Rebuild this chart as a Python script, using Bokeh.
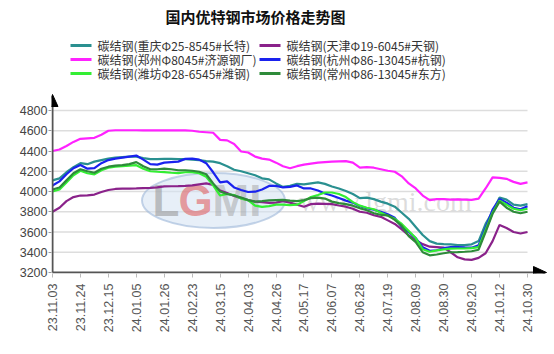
import math
from bokeh.plotting import figure
from bokeh.models import Range1d, FixedTicker, Label
from bokeh.embed import file_html
from bokeh.resources import INLINE
from bokeh.core.properties import value

# ---------------- data ----------------
dates = ["23.11.03", "23.11.24", "23.12.15", "24.01.05", "24.01.26", "24.02.23",
         "24.03.15", "24.04.03", "24.04.26", "24.05.17", "24.06.07", "24.06.28",
         "24.07.19", "24.08.09", "24.08.30", "24.09.20", "24.10.12", "24.10.30"]
y_ticks = [3200, 3400, 3600, 3800, 4000, 4200, 4400, 4600, 4800]

names = ["碳结钢(重庆Φ25-8545#长特)", "碳结钢(天津Φ19-6045#天钢)",
         "碳结钢(郑州Φ8045#济源钢厂)", "碳结钢(杭州Φ86-13045#杭钢)",
         "碳结钢(潍坊Φ28-6545#潍钢)", "碳结钢(常州Φ86-13045#东方)"]

chongqing = [4110, 4130, 4190, 4240, 4280, 4270, 4295, 4310, 4325, 4335,
             4340, 4345, 4345, 4330, 4320, 4320, 4322, 4322, 4320, 4320,
             4315, 4310, 4300, 4295, 4280, 4250, 4215, 4200, 4180, 4160,
             4130, 4120, 4080, 4045, 4055, 4075, 4070, 4080, 4090, 4075,
             4050, 4030, 4005, 3975, 3935, 3940, 3925, 3900, 3880, 3850,
             3790, 3730, 3650, 3570, 3510, 3485, 3480, 3478, 3470, 3470,
             3478, 3510, 3680, 3800, 3940, 3920, 3870, 3860, 3875]

tianjin = [3800, 3840, 3905, 3945, 3960, 3962, 3970, 3995, 4015, 4025,
           4028, 4028, 4030, 4033, 4036, 4040, 4050, 4052, 4053, 4055,
           4060, 4070, 4080, 4065, 4010, 3985, 3955, 3935, 3915, 3900,
           3895, 3888, 3890, 3905, 3890, 3870, 3850, 3875, 3880, 3878,
           3875, 3862, 3850, 3830, 3800, 3790, 3765, 3750, 3715, 3680,
           3625, 3565, 3520, 3480, 3455, 3450, 3445, 3400, 3350, 3330,
           3325, 3345, 3390, 3510, 3670, 3640, 3600, 3585, 3600]

zhengzhou = [4400, 4415, 4450, 4490, 4520, 4525, 4530, 4560, 4600, 4605,
             4605, 4605, 4605, 4603, 4603, 4603, 4603, 4603, 4603, 4603,
             4600, 4590, 4585, 4580, 4510, 4505, 4470, 4395, 4385, 4345,
             4325, 4315, 4285, 4250, 4230, 4250, 4265, 4275, 4285, 4290,
             4295, 4298, 4300, 4285, 4235, 4240, 4235, 4220, 4205, 4195,
             4150, 4080, 4030, 3960, 3915, 3925, 3925, 3920, 3922, 3920,
             3918, 3930, 4030, 4140, 4135, 4125, 4095, 4075, 4090]

hangzhou = [4060, 4100, 4170, 4230, 4262, 4225, 4230, 4280, 4310, 4325,
            4335, 4345, 4355, 4315, 4270, 4265, 4285, 4290, 4295, 4322,
            4325, 4315, 4280, 4190, 4090, 4100, 4040, 4015, 3995, 3998,
            4020, 4055, 4055, 4040, 4045, 4060, 4030, 4030, 4010, 3980,
            3960, 3935, 3910, 3890, 3855, 3835, 3820, 3800, 3775, 3740,
            3650, 3600, 3540, 3450, 3415, 3420, 3440, 3450, 3452, 3448,
            3445, 3470, 3640, 3820, 3925, 3890, 3840, 3825, 3855]

weifang = [4000, 4020, 4090, 4160, 4205, 4180, 4170, 4210, 4235, 4245,
           4250, 4255, 4260, 4225, 4200, 4195, 4192, 4185, 4182, 4190,
           4192, 4180, 4145, 4060, 3960, 3975, 3965, 3930, 3915, 3860,
           3848, 3855, 3870, 3870, 3865, 3870, 3905, 3945, 3965, 3990,
           3990, 3975, 3945, 3895, 3860, 3840, 3825, 3790, 3760, 3730,
           3680, 3610, 3540, 3430, 3405, 3418, 3428, 3435, 3437, 3437,
           3440, 3450, 3620, 3790, 3910, 3870, 3830, 3815, 3830]

changzhou = [4020, 4040, 4110, 4180, 4220, 4200, 4185, 4225, 4245, 4255,
             4260, 4270, 4290, 4250, 4220, 4220, 4225, 4220, 4210, 4210,
             4205, 4195, 4170, 4080, 4000, 3975, 3960, 3940, 3915, 3900,
             3905, 3912, 3915, 3918, 3910, 3905, 3915, 3935, 3940, 3930,
             3900, 3885, 3875, 3860, 3835, 3815, 3785, 3770, 3765, 3720,
             3660, 3560, 3500, 3400, 3370, 3378, 3390, 3400, 3402, 3405,
             3410, 3425, 3600, 3780, 3900, 3840, 3800, 3785, 3800]

series = [chongqing, tianjin, zhengzhou, hangzhou, weifang, changzhou]
colors = ["#2a9090", "#8a228a", "#ff22ff", "#1a22ee", "#33ee33", "#2e8b3a"]

STEP = 4
x = list(range(len(chongqing)))
XMAX = x[-1]
YMIN, YMAX = y_ticks[0], y_ticks[-1]

# ---------------- pixel geometry ----------------
W, H = 554, 354
AX_X, AX_Y = 52, 272          # pixel position of the axes origin
PX_END, PY_TOP = 527, 110     # pixel position of last x tick / top gridline
UX = XMAX / (PX_END - AX_X)   # data units per pixel (x)
UY = (YMAX - YMIN) / (AX_Y - PY_TOP)
LEFT, BOTTOM = AX_X - 1, H - AX_Y - 1


def xd(px):
    return (px - AX_X) * UX


def yd(py):
    return YMIN + (AX_Y - py) * UY


p = figure(width=W, height=H, output_backend="svg", toolbar_location=None,
           x_range=Range1d(xd(LEFT), xd(W)), y_range=Range1d(yd(H - BOTTOM), yd(0)),
           min_border_left=LEFT, min_border_right=0,
           min_border_top=0, min_border_bottom=BOTTOM)
p.outline_line_color = None
p.background_fill_color = "white"
p.border_fill_color = "white"

# axes (ticks and labels only; lines drawn below)
p.xaxis.ticker = FixedTicker(ticks=[i * STEP for i in range(len(dates))])
p.xaxis.major_label_overrides = {i * STEP: d for i, d in enumerate(dates)}
p.xaxis.major_label_orientation = math.pi / 2
p.xaxis.axis_line_color = None
p.xaxis.major_tick_out = 4
p.xaxis.major_tick_in = 0
p.xaxis.major_tick_line_color = "#bbbbbb"
p.xaxis.minor_tick_line_color = None
p.xaxis.major_label_text_font = "Liberation Sans"
p.xaxis.major_label_text_font_size = "12.5px"
p.xaxis.major_label_text_color = "#555555"
p.xaxis.major_label_standoff = 6

p.yaxis.ticker = FixedTicker(ticks=y_ticks)
p.yaxis.axis_line_color = None
p.yaxis.major_tick_out = 3
p.yaxis.major_tick_in = 0
p.yaxis.major_tick_line_color = "#999999"
p.yaxis.minor_tick_line_color = None
p.yaxis.major_label_text_font = "Liberation Sans"
p.yaxis.major_label_text_font_size = "12.5px"
p.yaxis.major_label_text_color = "#444444"
p.yaxis.major_label_standoff = 1

p.grid.visible = False

# gridlines limited to the data width
grid_y = y_ticks[1:]
p.segment(x0=[0] * len(grid_y), y0=grid_y, x1=[XMAX] * len(grid_y), y1=grid_y,
          line_color="#dddddd", line_width=1.5)

# watermark
p.ellipse(x=[xd(213)], y=[yd(200)], width=[143 * UX], height=[55 * UY],
          fill_color="#d4e2f2", fill_alpha=0.55, line_color="#9fb8d8", line_alpha=0.6, line_width=2)
p.text(x=[xd(152)], y=[yd(200)], text=["L"], text_font=value("Liberation Sans"),
       text_font_style="bold", text_font_size="44px", text_color="#9a9a9a", text_alpha=0.6,
       text_baseline="middle")
p.text(x=[xd(178)], y=[yd(200)], text=["G"], text_font=value("Liberation Sans"),
       text_font_style="bold", text_font_size="44px", text_color="#e05050", text_alpha=0.55,
       text_baseline="middle")
p.text(x=[xd(212)], y=[yd(200)], text=["MI"], text_font=value("Liberation Sans"),
       text_font_style="bold", text_font_size="44px", text_color="#9a9a9a", text_alpha=0.45,
       text_baseline="middle")
p.text(x=[xd(385)], y=[yd(201)], text=["www.lgmi.com"], text_font=value("Liberation Serif"),
       text_font_size="28px", text_color="#9a9a9a", text_alpha=0.35,
       text_align="center", text_baseline="middle")

# series
for vals, c in zip(series, colors):
    p.line(x, vals, line_color=c, line_width=2.2)

# axis lines with arrow heads
p.line([0, xd(536)], [YMIN, YMIN], line_color="#555555", line_width=2)
p.line([0, 0], [YMIN, yd(104)], line_color="#555555", line_width=2)
p.patch([xd(533), xd(533), xd(546)], [yd(266), yd(278), yd(272)], fill_color="black", line_color="black")
p.patch([xd(46.5), xd(57.5), xd(52)], [yd(106), yd(106), yd(94)], fill_color="black", line_color="black")

# title
p.add_layout(Label(x=xd(255), y=yd(16), text="国内优特钢市场价格走势图",
                   text_align="center", text_baseline="middle",
                   text_font="Noto Sans CJK SC", text_font_style="bold",
                   text_font_size="15px", text_color="#111111"))

# legend (two columns)
col_x = [70, 259]
row_y = [45, 59, 73]
for k, (nm, c) in enumerate(zip(names, colors)):
    cx = col_x[k % 2]
    ry = row_y[k // 2]
    p.line([xd(cx), xd(cx + 21)], [yd(ry), yd(ry)], line_color=c, line_width=3)
    p.add_layout(Label(x=xd(cx + 27), y=yd(ry), text=nm, text_baseline="middle",
                       text_font="Noto Sans CJK SC", text_font_size="12px",
                       text_color="#333333"))

open("out.html", "w").write(file_html(p, INLINE))
